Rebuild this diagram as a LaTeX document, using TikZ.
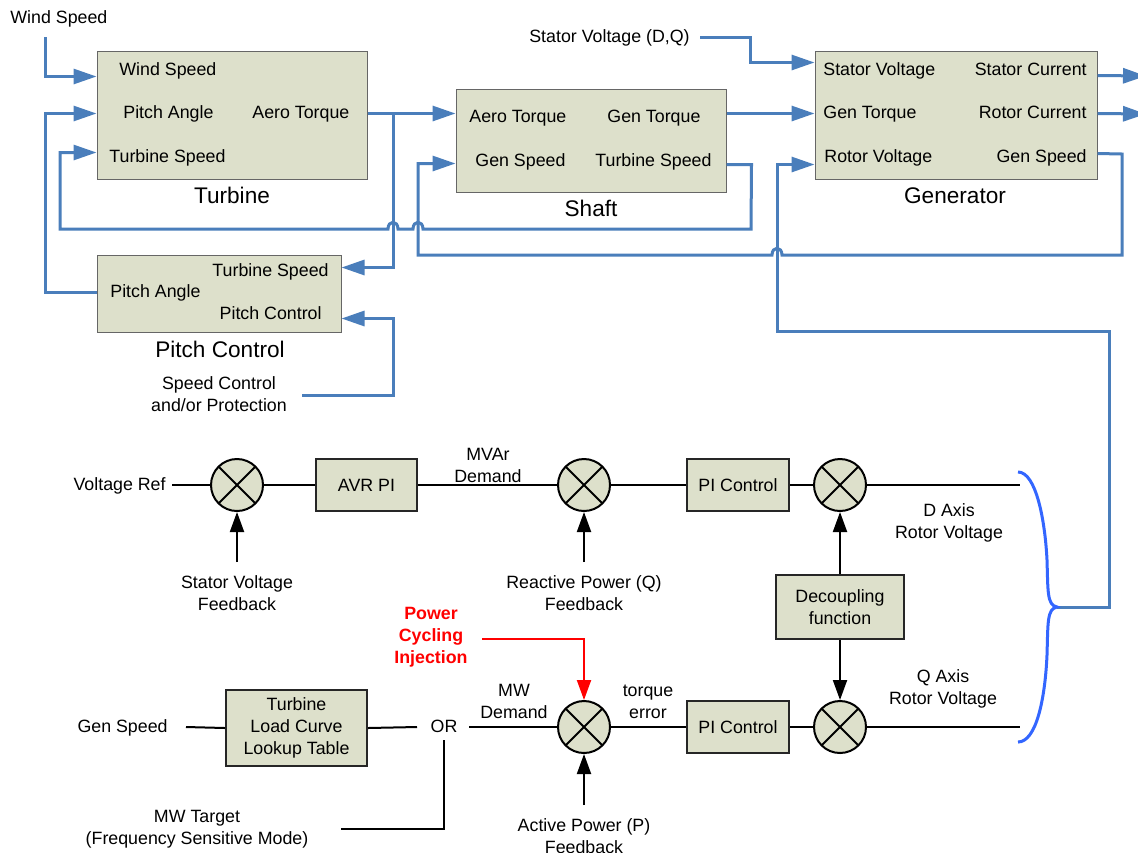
\documentclass[tikz,border=0pt]{standalone}
\usepackage{fontspec}
\setmainfont{Liberation Sans}
\usetikzlibrary{arrows.meta,calc}

\definecolor{boxfill}{RGB}{221,224,203}
\definecolor{flowblue}{RGB}{74,126,187}
\definecolor{bracblue}{RGB}{51,102,255}
\definecolor{injred}{RGB}{255,0,0}

\newcommand\lblfont{\fontsize{8.9}{11}\selectfont}
\newcommand\ttlfont{\fontsize{11.3}{13.5}\selectfont}

\tikzset{
  tbox/.style={rectangle, draw=black!60, line width=0.5pt, fill=boxfill, inner sep=0},
  cbox/.style={rectangle, draw=black!85, line width=1pt, fill=boxfill, inner sep=0,
    align=center, font=\lblfont},
  lbl/.style={inner sep=0, align=center, font=\lblfont, text height=6.5pt, text depth=1.5pt},
  lblm/.style={inner sep=0, align=center, font=\lblfont},
  ttl/.style={inner sep=0, font=\ttlfont, text height=8.2pt, text depth=2.3pt},
  bline/.style={draw=flowblue, line width=1.5pt},
  barrow/.style={bline, -{Triangle[length=11.5pt,width=7.5pt]}},
  kline/.style={draw=black, line width=1pt},
  karrow/.style={kline, -{Triangle[length=10pt,width=7pt]}},
  rarrow/.style={draw=injred, line width=1pt, -{Triangle[length=10pt,width=7pt]}},
  sumj/.style={circle, draw=black, line width=1pt, fill=boxfill, minimum size=26pt,
    inner sep=0,
    path picture={\draw[line width=1pt]
      (path picture bounding box.north west) -- (path picture bounding box.south east)
      (path picture bounding box.north east) -- (path picture bounding box.south west);}},
}

\begin{document}
\begin{tikzpicture}[x=0.5pt,y=-0.5pt]
\fill[white] (0,0) rectangle (1138,852);
\clip (0,0) rectangle (1138,852);

% ---------------- drive train blocks ----------------
\node[tbox, minimum width=135pt, minimum height=64pt] (turb) at (232,115) {};
\node[lbl, anchor=west] (turbws) at (119,70) {Wind Speed};
\node[lbl, anchor=west] (turbpa) at (123,113) {Pitch Angle};
\node[lbl, anchor=west] (turbat) at (252,113) {Aero Torque};
\node[lbl, anchor=west] (turbts) at (109,157) {Turbine Speed};
\node[ttl] (turbttl) at (232,198) {Turbine};

\node[tbox, minimum width=135pt, minimum height=51.5pt] (shaft) at (591,140.5) {};
\node[lbl, anchor=west] (shat) at (469,117) {Aero Torque};
\node[lbl, anchor=west] (shgt) at (607,117) {Gen Torque};
\node[lbl, anchor=west] (shgs) at (475,161) {Gen Speed};
\node[lbl, anchor=west] (shts) at (595,161) {Turbine Speed};
\node[ttl] (shttl) at (591,211) {Shaft};

\node[tbox, minimum width=141pt, minimum height=64pt] (gen) at (956,115) {};
\node[lbl, anchor=west] (gensv) at (823,70) {Stator Voltage};
\node[lbl, anchor=west] (gengt) at (823,113) {Gen Torque};
\node[lbl, anchor=west] (genrv) at (824,157) {Rotor Voltage};
\node[lbl, anchor=east] (gensc) at (1087,70) {Stator Current};
\node[lbl, anchor=east] (genrc) at (1087,113) {Rotor Current};
\node[lbl, anchor=east] (gengs) at (1087,157) {Gen Speed};
\node[ttl] (genttl) at (955,198) {Generator};

\node[tbox, minimum width=122pt, minimum height=38.5pt] (pc) at (219,293.5) {};
\node[lbl, anchor=east] (pcts) at (329,271) {Turbine Speed};
\node[lbl, anchor=west] (pcpa) at (110,292) {Pitch Angle};
\node[lbl, anchor=east] (pcpc) at (322,314) {Pitch Control};
\node[ttl] (pcttl) at (220,352) {Pitch Control};

\node[lbl, anchor=west] (wsin) at (10,18) {Wind Speed};
\node[lbl, anchor=east] (svdq) at (690,37) {Stator Voltage (D,Q)};
\node[lblm] (scp) at (219,394.5) {Speed Control\\and/or Protection};

% ---------------- drive train signals ----------------
\coordinate (wsfree) at (45,37);
\draw[barrow] (wsfree) |- ($(turb.north west)+(0,26)$);

\draw[barrow] ($(pc.north west)+(0,38)$) -- ++(-51,0) |- ($(turb.north west)+(0,63)$);

\draw[barrow] ($(turb.north east)+(0,63)$) -- ($(shaft.north west)+(0,25)$);
\coordinate (atbranch) at (393,114);
\draw[barrow] (atbranch) |- ($(pc.north east)+(0,13)$);

\coordinate (scfree) at (302,395);
\draw[barrow] (scfree) -- (393,395) |- ($(pc.north east)+(0,64)$);

% turbine speed fed back from the shaft (hops over two verticals)
\draw[barrow] ($(shaft.north east)+(0,76)$) -- ++(25,0) -- (751,229) -- (423,229)
  .. controls (423,220) and (413,220) .. (413,229) -- (398,229)
  .. controls (398,220) and (388,220) .. (388,229) -- (60,229)
  |- ($(turb.north west)+(0,102)$);

% generator speed fed back to the shaft (hop over rotor voltage line)
\draw[barrow] ($(gen.north east)+(0,103)$) -- (1122,154) -- (1122,255) -- (782,255)
  .. controls (782,246) and (772,246) .. (772,255) -- (418,255)
  |- ($(shaft.north west)+(0,75)$);

\draw[barrow] ($(shaft.north east)+(0,25)$) -- ($(gen.north west)+(0,63)$);
\draw[barrow] ($(svdq.east)+(10,0)$) -- (750,37) |- ($(gen.north west)+(0,12)$);

\coordinate (scout) at (1146,76);
\coordinate (rcout) at (1146,114);
\draw[barrow] ($(gen.north east)+(0,25)$) -- (scout);
\draw[barrow] ($(gen.north east)+(0,63)$) -- (rcout);

% rotor voltage from the controller outputs
\coordinate (btip) at (1057,607);
\draw[barrow] (btip) -- (1109,607) -- (1109,331) -- (777,331) |- ($(gen.north west)+(0,114)$);

\draw[bracblue, line width=1.5pt] (1018,472)
  .. controls (1036,472) and (1045,520) .. (1047,560)
  .. controls (1048,592) and (1047,605) .. (btip)
  .. controls (1047,609) and (1048,622) .. (1047,655)
  .. controls (1045,700) and (1036,742) .. (1018,742);

% ---------------- rotor voltage controller ----------------
\node[lbl, anchor=east] (vref) at (166,485) {Voltage Ref};
\node[sumj] (s1) at (237,485) {};
\node[cbox, minimum width=50.5pt, minimum height=26pt] (avr) at (366.5,485) {AVR PI};
\node[sumj] (s2) at (584,485) {};
\node[cbox, minimum width=51pt, minimum height=26pt] (pi1) at (738,485) {PI Control};
\node[sumj] (s3) at (840,485) {};
\coordinate (dend) at (1020,485);
\node[lblm] (mvar) at (488,465) {MVAr\\Demand};
\node[lblm] (dax) at (949,522.5) {D Axis\\Rotor Voltage};
\node[lblm] (svfb) at (237,593) {Stator Voltage\\Feedback};
\node[lblm] (rpfb) at (584,593) {Reactive Power (Q)\\Feedback};
\coordinate (svfbtop) at (237,562);
\coordinate (rpfbtop) at (584,562);

\node[cbox, minimum width=64pt, minimum height=32pt] (dec) at (840,607) {Decoupling\\function};

\node[lbl, anchor=east] (gspd) at (168,727) {Gen Speed};
\node[cbox, minimum width=70.5pt, minimum height=38pt] (lut) at (296.5,728) {Turbine\\Load Curve\\Lookup Table};
\node[lbl] (or) at (444,727) {OR};
\node[sumj] (s5) at (584,727) {};
\node[cbox, minimum width=51pt, minimum height=26pt] (pi2) at (738,727) {PI Control};
\node[sumj] (s4) at (840,727) {};
\coordinate (qend) at (1020,727);
\node[lblm] (mwd) at (514,701) {MW\\Demand};
\node[lblm] (terr) at (648,702) {torque\\error};
\node[lblm] (qax) at (943,689) {Q Axis\\Rotor Voltage};
\node[lblm] (mwt) at (197,829) {MW Target\\(Frequency Sensitive Mode)};
\node[lblm] (apfb) at (584,836.5) {Active Power (P)\\Feedback};
\coordinate (apfbtop) at (584,805);
\node[lblm, text=injred, font=\lblfont\bfseries] (pci) at (431,637.5) {Power\\Cycling\\Injection};
\coordinate (pcistart) at (482,639);
\coordinate (orbot) at (444,740);
\coordinate (mwtend) at (341,829);

% D axis chain
\draw[kline] ($(vref.east)+(6,0)$) -- (s1.west);
\draw[kline] (s1.east) -- (avr.west);
\draw[kline] (avr.east) -- (s2.west);
\draw[kline] (s2.east) -- (pi1.west);
\draw[kline] (pi1.east) -- (s3.west);
\draw[kline] (s3.east) -- (dend);
\draw[karrow] (svfbtop) -- (s1.south);
\draw[karrow] (rpfbtop) -- (s2.south);
\draw[karrow] (dec.north) -- (s3.south);
\draw[karrow] (dec.south) -- (s4.north);

% Q axis chain
\draw[kline] ($(gspd.east)+(18,0)$) -- (lut.west);
\draw[kline] (lut.east) -- ($(or.center)+(-27,0)$);
\draw[kline] ($(or.center)+(25,0)$) -- (s5.west);
\draw[kline] (orbot) |- (mwtend);
\draw[kline] (s5.east) -- (pi2.west);
\draw[kline] (pi2.east) -- (s4.west);
\draw[kline] (s4.east) -- (qend);
\draw[karrow] (apfbtop) -- (s5.south);
\draw[rarrow] (pcistart) -| (s5.north);
\end{tikzpicture}
\end{document}
